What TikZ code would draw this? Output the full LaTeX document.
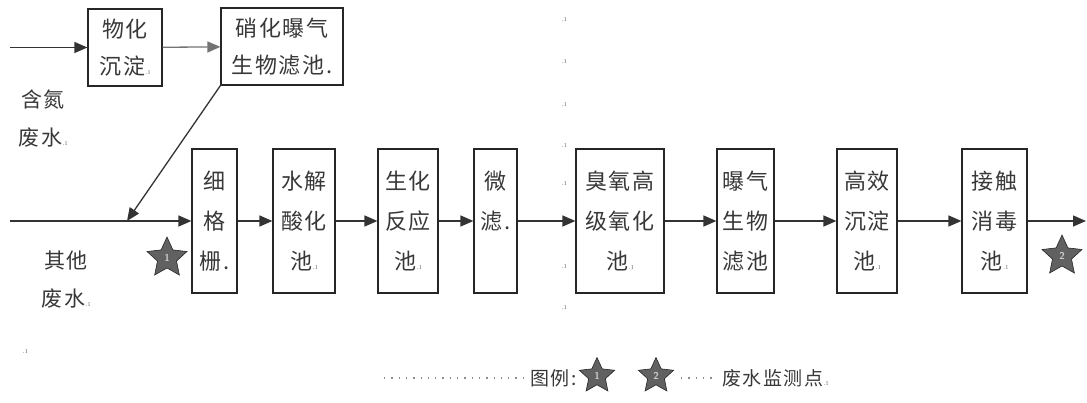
\documentclass[tikz,border=0pt]{standalone}
\usepackage{fontspec}
\newfontfamily\cjk[LetterSpace=8]{Noto Sans CJK SC}
\usetikzlibrary{arrows.meta,shapes.geometric}
\newcommand\parmk{{\normalfont\fontsize{9}{9}\selectfont\color{black!50}.ı}}
\begin{document}
\begin{tikzpicture}[x=1pt,y=-1pt,
  box/.style={draw=black!85, line width=1.2pt, align=center, inner sep=0pt,
    font=\cjk\fontsize{22}{40}\selectfont, text=black!78},
  topbox/.style={box, font=\cjk\fontsize{22}{37}\selectfont},
  conn/.style={line width=1.3pt, draw=black!80, -{Triangle[length=13pt,width=11pt]}},
  softconn/.style={conn, draw=black!55},
  lbl/.style={align=center, inner sep=0pt, font=\cjk\fontsize{21}{38}\selectfont, text=black!78},
  mstar/.style={star, star points=5, star point ratio=2.1, fill=black!62, draw=black!85,
    line width=0.6pt, inner sep=0pt, minimum size=42pt, text=white!80!black,
    font=\sffamily\bfseries\fontsize{10}{10}\selectfont},
  pmark/.style={inner sep=0pt, font=\fontsize{9}{9}\selectfont, text=black!50},
  leader/.style={line width=1.3pt, draw=black!45, dash pattern=on 1.3pt off 6pt}
]
\useasboundingbox (0,0) rectangle (1087,403);

% top row
\node[topbox, minimum width=74pt, minimum height=77pt] (A) at (125,47.5) {物化\\沉淀\parmk};
\node[topbox, minimum width=122pt, minimum height=77pt] (B) at (282,46.5) {硝化曝气\\生物滤池.};
\coordinate (inA) at (10,47.5);
\node[lbl, anchor=center] (lblA) at (43,119) {含氮\\废水\parmk};

% bottom row
\node[box, minimum width=45pt, minimum height=144pt] (b1) at (214.5,221) {细\\格\\栅.};
\node[box, minimum width=62pt, minimum height=144pt] (b2) at (304,221) {水解\\酸化\\池\parmk};
\node[box, minimum width=60pt, minimum height=144pt] (b3) at (408,221) {生化\\反应\\池\parmk};
\node[box, minimum width=43pt, minimum height=144pt] (b4) at (495.5,221) {微\\滤.\\\phantom{微}};
\node[box, minimum width=88pt, minimum height=144pt] (b5) at (620,221) {臭氧高\\级氧化\\池\parmk};
\node[box, minimum width=57pt, minimum height=144pt] (b6) at (745.5,221) {曝气\\生物\\滤池};
\node[box, minimum width=60pt, minimum height=144pt] (b7) at (867,221) {高效\\沉淀\\池\parmk};
\node[box, minimum width=65pt, minimum height=144pt] (b8) at (994.5,221) {接触\\消毒\\池\parmk};
\coordinate (inB) at (10,221);
\coordinate (merge) at (127,221);
\coordinate (outp) at (1086,221);
\node[lbl] (lblB) at (66,280) {其他\\废水\parmk};

% stars
\node[mstar] (s1) at (167,258) {1};
\node[mstar] (s2) at (1062,256) {2};

% connectors
\draw[conn] (inA) -- (A);
\draw[softconn] (A) -- (B);
\draw[conn] (B.south west) -- (merge);
\draw[conn] (inB) -- (b1);
\draw[conn] (b1) -- (b2);
\draw[conn] (b2) -- (b3);
\draw[conn] (b3) -- (b4);
\draw[conn] (b4) -- (b5);
\draw[conn] (b5) -- (b6);
\draw[conn] (b6) -- (b7);
\draw[conn] (b7) -- (b8);
\draw[conn] (b8) -- (outp);

% paragraph marks
\node[pmark] (p1) at (564,20) {.ı};
\node[pmark] (p2) at (564,62) {.ı};
\node[pmark] (p3) at (564,105) {.ı};
\node[pmark] (p4) at (564,146) {.ı};
\node[pmark] (p5) at (564,184) {.ı};
\node[pmark] (p6) at (564,267) {.ı};
\node[pmark] (p7) at (564,308) {.ı};
\node[pmark] (p8) at (25,352) {.ı};

% legend
\coordinate (ldA) at (384,378);
\coordinate (ldB) at (526,378);
\draw[leader] (ldA) -- (ldB);
\node[lbl, font=\cjk\fontsize{19}{19}\selectfont, anchor=west] (leg) at (530,378) {图例:};
\node[mstar, minimum size=37pt] (ls1) at (597,376) {1};
\node[mstar, minimum size=37pt] (ls2) at (656,376) {2};
\coordinate (ldC) at (681,378);
\coordinate (ldD) at (716,378);
\draw[leader] (ldC) -- (ldD);
\node[lbl, font=\cjk\fontsize{19}{19}\selectfont, anchor=west] (legt) at (722,378) {废水监测点\parmk};
\end{tikzpicture}
\end{document}
